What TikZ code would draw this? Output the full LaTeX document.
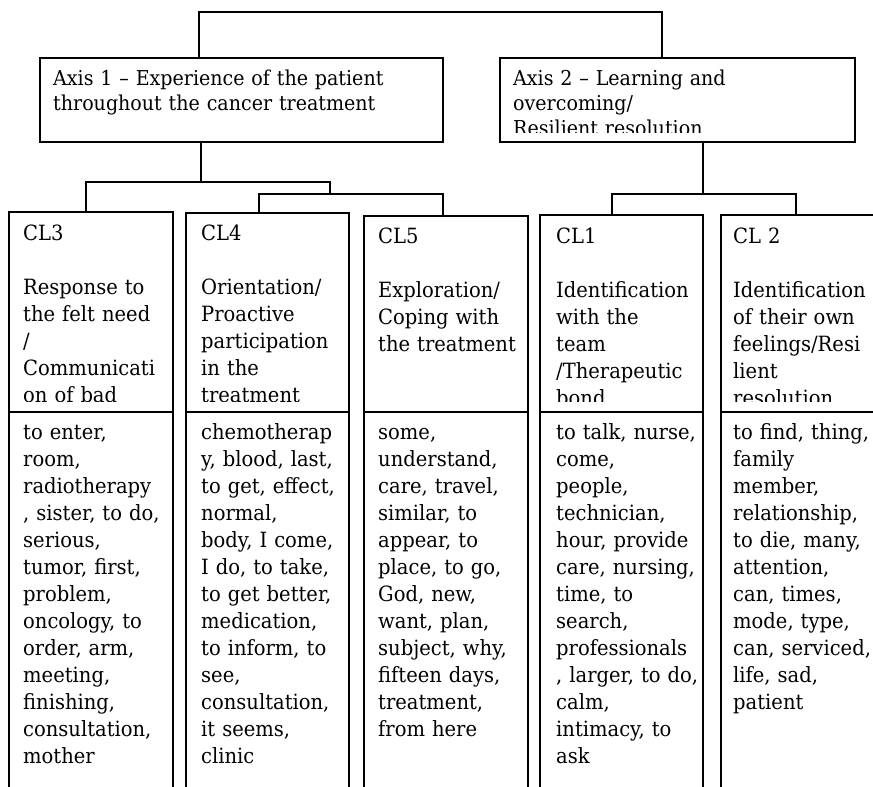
\documentclass[tikz,border=0pt]{standalone}
\usepackage{fontspec}
\setmainfont{DejaVu Serif}[FakeStretch=0.93]
\usetikzlibrary{positioning}

\begin{document}
\begin{tikzpicture}[x=1pt,y=-1pt]
\tikzstyle{box}=[draw, rectangle, anchor=north west, inner sep=0pt, outer sep=0pt, line width=2pt]
\tikzstyle{words}=[anchor=base west, inner sep=0pt, text width=200pt, align=left, font=\fontsize{21}{27}\selectfont]
\tikzstyle{axiswords}=[anchor=base west, inner sep=0pt, text width=400pt, align=left, font=\fontsize{20.5}{25}\selectfont]
\tikzstyle{link}=[line width=2pt]
    \clip (0,0) rectangle (873,787);
    \node[box, minimum width=403pt, minimum height=84pt] (ax1) at (40,58) {};
    \node[box, minimum width=355pt, minimum height=84pt] (ax2) at (500,58) {};
    \node[axiswords] (ax1txt) at (53,85) {Axis 1 -- Experience of the patient\\throughout the cancer treatment};
    \begin{scope}
        \clip (ax2.north west) rectangle ([yshift=10pt]ax2.south east);
        \node[axiswords] (ax2txt) at (513,85) {Axis 2 -- Learning and\\overcoming/\\Resilient resolution};
    \end{scope}
    \node[box, minimum width=164pt, minimum height=200pt] (cl3) at (9,212) {};
    \node[box, minimum width=163pt, minimum height=199pt] (cl4) at (186,213) {};
    \node[box, minimum width=164pt, minimum height=196pt] (cl5) at (364,216) {};
    \node[box, minimum width=163pt, minimum height=197pt] (cl1) at (540,215) {};
    \node[box, minimum width=170pt, minimum height=197pt] (cl2) at (721,215) {};
    \node[box, minimum width=164pt, minimum height=390pt] (cl3w) at (cl3.south west) {};
    \node[box, minimum width=163pt, minimum height=390pt] (cl4w) at (cl4.south west) {};
    \node[box, minimum width=164pt, minimum height=390pt] (cl5w) at (cl5.south west) {};
    \node[box, minimum width=163pt, minimum height=390pt] (cl1w) at (cl1.south west) {};
    \node[box, minimum width=170pt, minimum height=390pt] (cl2w) at (cl2.south west) {};
    \begin{scope}
        \clip (cl3.north west) rectangle ([yshift=11pt]cl2.south east);
        \node[words] (cl3txt) at (23,240) {CL3\\[27pt]Response to\\the felt need\\/\\Communicati\\on of bad};
        \node[words] (cl4txt) at (201,240) {CL4\\[27pt]Orientation/\\Proactive\\participation\\in the\\treatment};
        \node[words] (cl5txt) at (378,243) {CL5\\[27pt]Exploration/\\Coping with\\the treatment};
        \node[words] (cl1txt) at (556,243) {CL1\\[27pt]Identification\\with the\\team\\/Therapeutic\\bond};
        \node[words] (cl2txt) at (733,243) {CL 2\\[27pt]Identification\\of their own\\feelings/Resi\\lient\\resolution};
    \end{scope}
    \node[words] (cl3list) at (23,439) {to enter,\\room,\\radiotherapy\\, sister, to do,\\serious,\\tumor, first,\\problem,\\oncology, to\\order, arm,\\meeting,\\finishing,\\consultation,\\mother};
    \node[words] (cl4list) at (201,439) {chemotherap\\y, blood, last,\\to get, effect,\\normal,\\body, I come,\\I do, to take,\\to get better,\\medication,\\to inform, to\\see,\\consultation,\\it seems,\\clinic};
    \node[words] (cl5list) at (378,439) {some,\\understand,\\care, travel,\\similar, to\\appear, to\\place, to go,\\God, new,\\want, plan,\\subject, why,\\fifteen days,\\treatment,\\from here};
    \node[words] (cl1list) at (556,439) {to talk, nurse,\\come,\\people,\\technician,\\hour, provide\\care, nursing,\\time, to\\search,\\professionals\\, larger, to do,\\calm,\\intimacy, to\\ask};
    \node[words] (cl2list) at (733,439) {to find, thing,\\family\\member,\\relationship,\\to die, many,\\attention,\\can, times,\\mode, type,\\can, serviced,\\life, sad,\\patient};
    \coordinate (top1) at (199,12);
    \coordinate (top2) at (662,12);
    \coordinate (j1) at (201,182);
    \coordinate (j1l) at (86,182);
    \coordinate (j1r) at (330,182);
    \coordinate (j2l) at (259,194);
    \coordinate (j2r) at (443,194);
    \coordinate (j3) at (703,194);
    \coordinate (j3l) at (612,194);
    \coordinate (j3r) at (796,194);
    \draw[link] (ax1.north -| top1) -- (top1) -- (top2) -- (ax2.north -| top2);
    \draw[link] (ax1.south -| j1) -- (j1);
    \draw[link] (cl3.north -| j1l) -- (j1l) -- (j1r) -- (j2l -| j1r);
    \draw[link] (cl4.north -| j2l) -- (j2l) -- (j2r) -- (cl5.north -| j2r);
    \draw[link] (ax2.south -| j3) -- (j3);
    \draw[link] (cl1.north -| j3l) -- (j3l) -- (j3r) -- (cl2.north -| j3r);
\end{tikzpicture}
\end{document}
